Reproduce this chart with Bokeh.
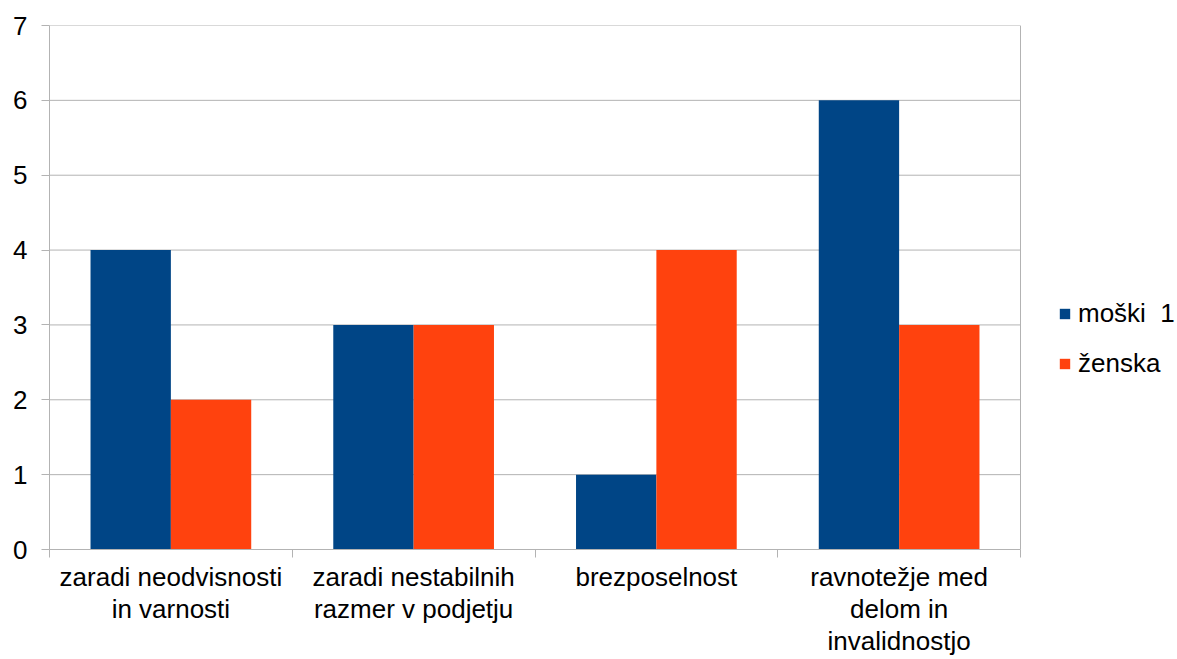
import numpy as np
from bokeh.plotting import figure
from bokeh.models import (ColumnDataSource, FixedTicker, Legend, LegendItem, Range1d, Span)
from bokeh.embed import file_html
from bokeh.resources import INLINE

categories = ["zaradi neodvisnosti\nin varnosti",
              "zaradi nestabilnih\nrazmer v podjetju",
              "brezposelnost",
              "ravnotežje med\ndelom in\ninvalidnostjo"]
series_names = ["moški  1", "ženska"]
moski = [4, 3, 1, 6]
zenska = [2, 3, 4, 3]
y_ticks = [0, 1, 2, 3, 4, 5, 6, 7]
colors = ["#004586", "#ff420e"]

FONT = "Liberation Sans"
GRAY = "#b3b3b3"
FS = "26px"

W, H = 1177, 659
LEFT, RIGHT_EDGE = 49, 1020          # pixel extent of the category area
n = len(categories)
x_end = n * (W - LEFT) / (RIGHT_EDGE - LEFT)

p = figure(width=W, height=H, output_backend="svg", toolbar_location=None,
           x_range=Range1d(0, x_end), y_range=Range1d(0, max(y_ticks)),
           min_border_left=LEFT, min_border_right=0, min_border_top=25,
           min_border_bottom=109)

# horizontal grid lines restricted to the category area
p.segment(x0=[0] * len(y_ticks), x1=[n] * len(y_ticks), y0=y_ticks, y1=y_ticks,
          line_color=GRAY, line_width=1)

idx = np.arange(n)
centers = idx + 0.5
bw = 0.331
src = ColumnDataSource(dict(m=moski, z=zenska,
                            xm=centers - bw / 2, xz=centers + bw / 2))
r1 = p.vbar(x="xm", top="m", width=bw, bottom=0, source=src,
            fill_color=colors[0], line_color=None)
r2 = p.vbar(x="xz", top="z", width=bw, bottom=0, source=src,
            fill_color=colors[1], line_color=None)

p.add_layout(Span(location=n, dimension="height", line_color=GRAY, line_width=1))

p.xgrid.grid_line_color = None
p.ygrid.grid_line_color = None
p.outline_line_color = None

# y axis
p.yaxis.ticker = FixedTicker(ticks=y_ticks)
p.yaxis.axis_line_color = GRAY
p.yaxis.major_tick_line_color = GRAY
p.yaxis.major_tick_out = 8
p.yaxis.major_tick_in = 0
p.yaxis.minor_tick_line_color = None
p.yaxis.major_label_text_font = FONT
p.yaxis.major_label_text_font_size = FS
p.yaxis.major_label_text_color = "#000000"
p.yaxis.major_label_standoff = 14

# x axis: labels at category centres, ticks at category boundaries
p.xaxis.bounds = (0, n)
p.xaxis.ticker = FixedTicker(ticks=list(centers), minor_ticks=list(range(n + 1)))
p.xaxis.major_label_overrides = {float(c): lab for c, lab in zip(centers, categories)}
p.xaxis.axis_line_color = GRAY
p.xaxis.major_tick_line_color = None
p.xaxis.major_tick_out = 0
p.xaxis.major_tick_in = 0
p.xaxis.minor_tick_line_color = GRAY
p.xaxis.minor_tick_out = 8
p.xaxis.minor_tick_in = 0
p.xaxis.major_label_text_font = FONT
p.xaxis.major_label_text_font_size = FS
p.xaxis.major_label_text_color = "#000000"
p.xaxis.major_label_text_line_height = 1.08
p.xaxis.major_label_standoff = 4

legend = Legend(items=[LegendItem(label=series_names[0], renderers=[r1]),
                       LegendItem(label=series_names[1], renderers=[r2])],
                location=(1009, 170), glyph_width=13, glyph_height=13,
                label_text_font=FONT, label_text_font_size=FS,
                label_text_color="#000000",
                label_standoff=7, spacing=19, padding=0, margin=0,
                border_line_color=None, background_fill_alpha=0)
p.add_layout(legend)

p.background_fill_color = "white"
p.border_fill_color = "white"

open("out.html", "w").write(file_html(p, INLINE))
